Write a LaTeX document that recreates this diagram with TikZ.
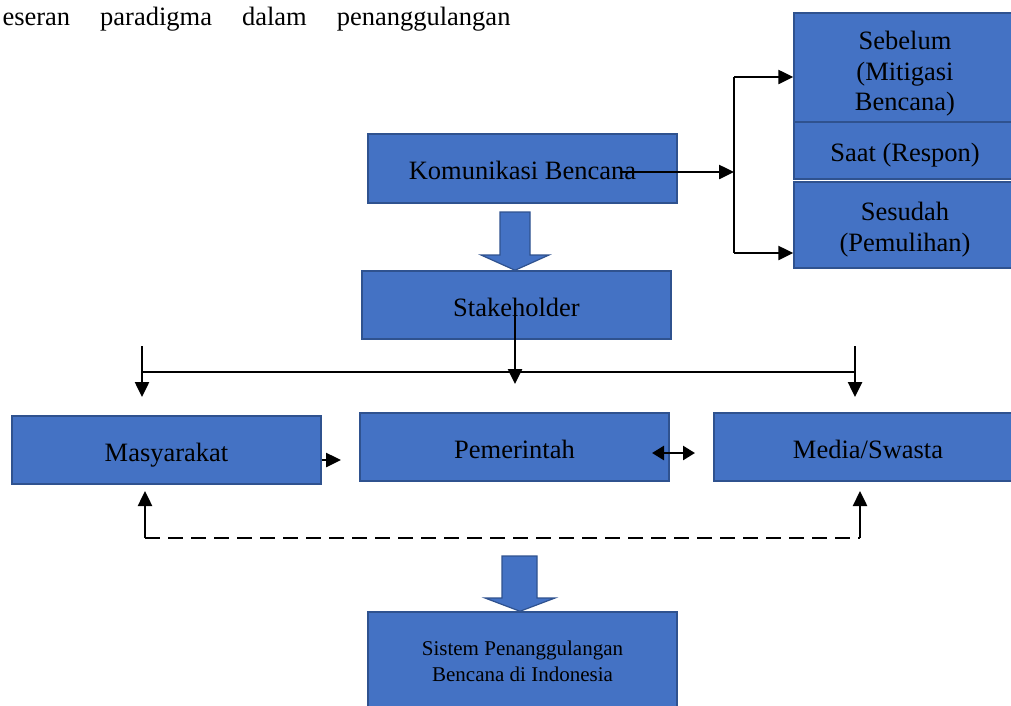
\documentclass[tikz,border=0pt]{standalone}
\usepackage{fontspec}
\setmainfont{Liberation Serif}
\usetikzlibrary{arrows.meta,positioning,calc}

\definecolor{boxfill}{HTML}{4472C4}
\definecolor{boxline}{HTML}{2F528F}

\tikzset{
  box/.style={rectangle, draw=boxline, fill=boxfill, line width=1.5pt, inner sep=0pt,
    align=center, font=\fontsize{26.5}{30.5}\selectfont, text height=24pt, text depth=2pt},
  conn/.style={line width=2.5pt, -{Triangle[length=15pt,width=14pt]}},
  link/.style={line width=2.5pt},
  bigarrow/.style={draw=boxline, fill=boxfill, line width=1.2pt},
}

\begin{document}
\begin{tikzpicture}[x=1pt, y=-1pt]

\useasboundingbox (0,0) rectangle (1011,705);

\node (intro) [anchor=base west, font=\fontsize{26.5}{31}\selectfont] at (-1,25)
  {eseran\hspace{30pt}paradigma\hspace{30pt}dalam\hspace{30pt}penanggulangan};

% tahap bencana
\node (sebelum) [box, minimum width=222pt, minimum height=109pt, text height=86pt, text depth=0pt]
  at (905,67.5) {Sebelum\\(Mitigasi\\Bencana)};
\node (saat) [box, minimum width=222pt, minimum height=57pt] at (905,150.5) {Saat (Respon)};
\node (sesudah) [box, minimum width=222pt, minimum height=86pt, text height=52pt, text depth=0pt]
  at (905,225) {Sesudah\\(Pemulihan)};

\node (kom) [box, minimum width=309pt, minimum height=69pt] at (522.5,168.5) {Komunikasi Bencana};
\node (stake) [box, minimum width=309pt, minimum height=68pt] at (516.5,305) {Stakeholder};

\node (masy) [box, minimum width=309pt, minimum height=68pt] at (166.5,450) {Masyarakat};
\node (pem) [box, minimum width=309pt, minimum height=68pt] at (514.5,447) {Pemerintah};
\node (media) [box, minimum width=308pt, minimum height=68pt] at (868,447) {Media/Swasta};

\node (sistem) [box, minimum width=309pt, minimum height=115pt, font=\fontsize{21}{26}\selectfont,
  text height=23pt, text depth=0pt] at (522.5,669.5) {Sistem Penanggulangan\\Bencana di Indonesia};

% cabang ke tahap
\coordinate (k) at (620,172);
\coordinate (br) at (734,172);
\coordinate (b1) at (734,77);
\coordinate (b2) at (734,253);
\draw [conn] (k) -- (br);
\draw [link] (b1) -- (b2);
\draw [conn] (b1) -- (b1 -| sebelum.west);
\draw [conn] (b2) -- (b2 -| sesudah.west);

% panah blok
\draw [bigarrow] (500,212) -- (530,212) -- (530,255) -- (549,255) -- (stake.north -| 515,0)
  -- (481,255) -- (500,255) -- cycle;
\draw [bigarrow] (502,556) -- (537,556) -- (537,598) -- (555,598) -- (sistem.north -| 520,0)
  -- (485,598) -- (502,598) -- cycle;

% stakeholder ke tiga pihak
\coordinate (s) at (515,305);
\coordinate (l) at (142,346);
\coordinate (r) at (855,346);
\draw [conn] (s) -- (515,384);
\draw [link] (142,372) -- (855,372);
\draw [conn] (l) -- (142,397);
\draw [conn] (r) -- (855,397);

\draw [conn] (masy.east |- 0,460) -- (341,460);
\draw [line width=2.5pt, {Triangle[length=12pt,width=14pt]}-{Triangle[length=12pt,width=14pt]}] (652,453) -- (695,453);

% umpan balik
\coordinate (dl) at (145,538);
\coordinate (dr) at (860,538);
\draw [link, dash pattern=on 15pt off 8pt] (dl) -- (dr);
\draw [conn] (dl) -- (145,491);
\draw [conn] (dr) -- (860,491);

\end{tikzpicture}
\end{document}
